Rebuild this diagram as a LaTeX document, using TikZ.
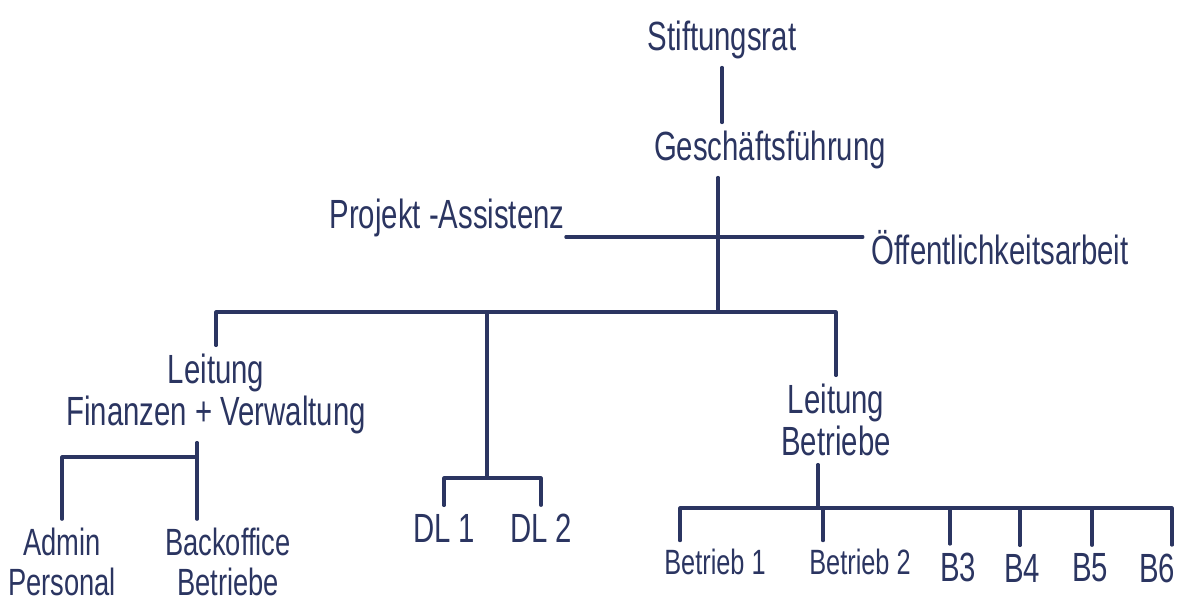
\documentclass[tikz,border=0pt]{standalone}
\usepackage{fontspec}
\newfontfamily\hand[FakeStretch=0.72]{Liberation Sans}
\usepackage{xcolor}
\usetikzlibrary{positioning}
\definecolor{ink}{HTML}{2B3561}

\begin{document}
\begin{tikzpicture}[
    lbl/.style={text=ink, inner sep=1pt, outer sep=5pt, align=center,
                font=\hand\fontsize{29}{30}\selectfont},
    low/.style={lbl, font=\hand\fontsize{27}{29}\selectfont},
    sml/.style={lbl, font=\hand\fontsize{25}{26}\selectfont},
    ln/.style={draw=ink, line width=2.2pt, line cap=round, line join=round}
  ]
  \useasboundingbox (0,0) rectangle (29.525,15.05);
  % ---------------- top ----------------
  \node[lbl] (sr) at (18.05,14.05) {Stiftungsrat};
  \node[lbl] (gf) at (19.25,11.3)  {Geschäftsführung};
  \node[lbl, outer sep=0pt] (pa) at (11.175,9.6) {Projekt -Assistenz};
  \node[lbl] (oa) at (25.0,8.85)   {Öffentlichkeitsarbeit};
  \coordinate (side) at (17.95,9.125);
  \coordinate (hub)  at (17.95,7.25);

  \draw[ln] (sr.south) -- (sr.south |- gf.north);
  \draw[ln] (gf.south -| hub) -- (hub);
  \draw[ln] (pa.east |- side) -- (oa.west |- side);

  % ---------------- second level ----------------
  \node[lbl] (lfv) at (5.4,5.2)   {Leitung\\Finanzen + Verwaltung};
  \node[lbl] (lb)  at (20.9,4.55) {Leitung\\Betriebe};
  \draw[ln] (lfv.north) |- (hub) -| (lb.north);

  \coordinate (dlbar) at (12.175,3.1);
  \node[lbl] (dl1) at (11.1,1.85)   {DL 1};
  \node[lbl] (dl2) at (13.525,1.85) {DL 2};
  \draw[ln] (dlbar) -- (dlbar |- hub);
  \draw[ln] (dl1.north) |- (dlbar) -| (dl2.north);

  % ---------------- Finanzen + Verwaltung ----------------
  \node[low] (ap) at (1.55,1.0) {Admin\\Personal};
  \node[low] (bo) at (5.7,1.0)  {Backoffice\\Betriebe};
  \coordinate (lfvbar) at (4.925,3.625);
  \draw[ln] (lfv.south -| lfvbar) -- (bo.north -| lfvbar);
  \draw[ln] (lfvbar) -| (ap.north);

  % ---------------- Betriebe ----------------
  \node[sml] (b1) at (17.875,1.0) {Betrieb 1};
  \node[sml] (b2) at (21.5,1.0)   {Betrieb 2};
  \node[lbl] (b3) at (23.95,0.875) {B3};
  \node[lbl] (b4) at (25.55,0.85)  {B4};
  \node[lbl] (b5) at (27.25,0.85)  {B5};
  \node[lbl] (b6) at (28.925,0.85) {B6};
  \foreach \n/\dx in {b1/-0.875, b2/-0.925, b3/-0.2, b4/-0.05, b5/0.05, b6/0.375}
    \coordinate (d\n) at ([xshift=\dx cm]\n.north);
  \coordinate (lbbar) at (20.45,2.35);
  \draw[ln] (lb.south -| lbbar) -- (lbbar);
  \draw[ln] (db1) |- (lbbar) -| (db6);
  \foreach \n in {db2,db3,db4,db5}
    \draw[ln] (\n) -- (\n |- lbbar);
\end{tikzpicture}
\end{document}
